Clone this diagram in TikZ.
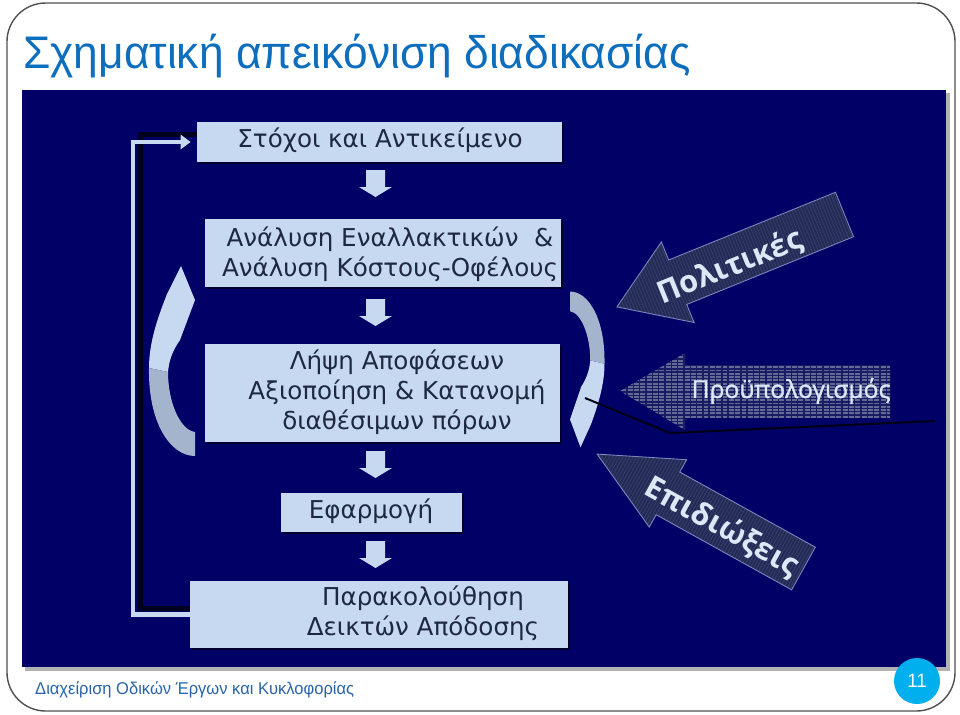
\documentclass[tikz,border=0pt]{standalone}
\usepackage{fontspec}
\setmainfont{DejaVu Sans}
\newfontfamily\titlefont{Liberation Sans}[FakeStretch=0.97]
\newfontfamily\arrowfont{Open Sans}
\newfontfamily\budfont{Open Sans}[FakeBold=1.3]
\usetikzlibrary{arrows.meta,shadows}

\definecolor{panelblue}{RGB}{0,0,102}
\definecolor{boxblue}{RGB}{198,217,240}
\definecolor{boxtext}{RGB}{30,40,65}
\definecolor{titleblue}{RGB}{14,110,190}
\definecolor{footblue}{RGB}{40,100,170}
\definecolor{pagecirc}{RGB}{0,175,238}
\definecolor{bandgray}{RGB}{165,180,205}
\definecolor{slate}{RGB}{36,42,86}
\definecolor{slateline}{RGB}{58,65,108}
\definecolor{slateedge}{RGB}{125,135,190}
\definecolor{budfill}{RGB}{25,28,100}
\definecolor{budline}{RGB}{100,106,148}
\definecolor{framegray}{RGB}{80,80,80}

\newdimen\unitpx \unitpx=0.02cm

\tikzset{
  curvarr/.pic={
    \fill[boxblue] (-46,-74) .. controls (-46,-100) and (-37,-125) .. (-28,-148)
      -- (-14,-176) -- (0,-142) -- (-15,-102)
      .. controls (-22,-92) and (-26,-82) .. (-27,-70) -- cycle;
    \fill[bandgray] (-46,-74) .. controls (-47,-20) and (-25,14) .. (0,14)
      -- (0,-10) .. controls (-15,-12) and (-27,-40) .. (-27,-70) -- cycle;
  }
}

\begin{document}
\begin{tikzpicture}[x=0.02cm,y=-0.02cm,
    box/.style={fill=boxblue,inner sep=0pt,
        drop shadow={shadow xshift=1.1pt,shadow yshift=-1.1pt,fill=black!55!panelblue,opacity=1}},
    boxlabel/.style={text=boxtext,align=center,font=\fontsize{14}{17}\selectfont},
    fbline/.style={draw=boxblue,line width=2.3pt,-{Triangle[length=5.7pt,width=8pt]}},
    fbshade/.style={draw=black!70!panelblue,line width=2.8pt},
    stripeline/.style={draw=slateline,line width=0.4pt},
    budstripe/.style={draw=budline,line width=1.1pt,dash pattern=on 2.8pt off 0.8pt},
    armtext/.style={text=boxblue!60!white,font=\arrowfont\bfseries\fontsize{17.5}{20}\selectfont},
    budtext/.style={text=boxblue!60!white,font=\budfont\fontsize{14}{16}\selectfont}]
\useasboundingbox (0,0) rectangle (960,714);

% slide frame and panel
\draw[framegray,fill=white,rounded corners=22pt,line width=0.8pt] (7,3) rectangle (955,711);
\fill[gray!60] (25,93) rectangle (950,671);
\fill[panelblue] (22,90) rectangle (946,667);
\node[anchor=base west,text=titleblue,font=\titlefont\fontsize{26}{30}\selectfont] (title) at (17,68) {Σχηματική απεικόνιση διαδικασίας};

% process boxes
\node[box,minimum width=365\unitpx,minimum height=40\unitpx] (b1) at (379.5,142) {};
\node[box,minimum width=356\unitpx,minimum height=68\unitpx] (b2) at (383,253) {};
\node[box,minimum width=355\unitpx,minimum height=98\unitpx] (b3) at (382.5,393) {};
\node[box,minimum width=181\unitpx,minimum height=39\unitpx] (b4) at (371.5,512.5) {};
\node[box,minimum width=378\unitpx,minimum height=67\unitpx] (b5) at (379,614.5) {};

% feedback loop
\draw[fbshade] ([yshift=3.4pt]b5.west) -- ++(-49,0) |- ([yshift=4.5pt]b1.west);
\draw[fbline] (b5.west) -- ++(-57,0) |- ([xshift=-3.4pt]b1.west);

% curved arrows
\pic at (195,442) {curvarr};
\pic[rotate=180,xscale=0.75,yscale=0.82] at (570,303) {curvarr};

% down arrows
\foreach \t in {170,299,451,541}
  \fill[boxblue] (366,\t) -- (385,\t) -- (385,\t+17) -- (392,\t+17) -- (375.5,\t+27)
    -- (359,\t+17) -- (366,\t+17) -- cycle;

% labels
\node[boxlabel] (l1) at (380,140) {Στόχοι και Αντικείμενο};
\node[boxlabel] (l2) at (390,254) {Ανάλυση Εναλλακτικών \ \&\\Ανάλυση Κόστους-Οφέλους};
\node[boxlabel] (l3) at (397,392) {Λήψη Αποφάσεων\\Αξιοποίηση \& Κατανομή\\διαθέσιμων πόρων};
\node[boxlabel] (l4) at (371,511) {Εφαρμογή};
\node[boxlabel] (l5) at (423,613) {Παρακολούθηση\\Δεικτών Απόδοσης};

% Politikes
\begin{scope}[shift={(844.5,214.5)},rotate=202.1]
  \begin{scope}
    \clip (0,-24) -- (180,-24) -- (180,-43.5) -- (245.6,0) -- (180,43.5) -- (180,24) -- (0,24) -- cycle;
    \fill[slate] (0,-45) rectangle (246,45);
    \foreach \s in {2,5,...,245} \draw[stripeline] (\s,-45) -- (\s,45);
  \end{scope}
  \draw[slateedge,line width=0.5pt] (0,-24) -- (180,-24) -- (180,-43.5) -- (245.6,0) -- (180,43.5) -- (180,24) -- (0,24) -- cycle;
\end{scope}
\node[armtext,rotate=22] (tpol) at (730,267) {Πολιτικές};

% Epidioxeis
\begin{scope}[shift={(803.5,568.5)},rotate=151]
  \begin{scope}
    \clip (0,-24.4) -- (155,-24.4) -- (155,-38.5) -- (236,0) -- (155,38.5) -- (155,24.4) -- (0,24.4) -- cycle;
    \fill[slate] (0,-45) rectangle (240,45);
    \foreach \s in {2,5,...,236} \draw[stripeline] (\s,-45) -- (\s,45);
  \end{scope}
  \draw[slateedge,line width=0.5pt] (0,-24.4) -- (155,-24.4) -- (155,-38.5) -- (236,0) -- (155,38.5) -- (155,24.4) -- (0,24.4) -- cycle;
\end{scope}
\node[armtext,rotate=-29] (tepi) at (722,527) {Επιδιώξεις};

% Budget
\draw[black!80!panelblue,line width=1.1pt] (585,398) -- (670,433) -- (935,421);
\begin{scope}
  \clip (890,365) -- (685,365) -- (685,353) -- (620,391) -- (685,430) -- (685,418) -- (890,418) -- cycle;
  \fill[budfill] (615,350) rectangle (895,435);
  \foreach \y in {354,357.3,...,431} \draw[budstripe] (615,\y) -- (895,\y);
\end{scope}
\node[budtext] (tbud) at (791,391) {Προϋπολογισμός};

% footer
\node[anchor=base west,text=footblue,font=\titlefont\fontsize{9.7}{12}\selectfont] (foot) at (29,694) {Διαχείριση Οδικών Έργων και Κυκλοφορίας};
\node[circle,fill=pagecirc,minimum size=46\unitpx,inner sep=0pt,text=white,font=\titlefont\fontsize{11}{12}\selectfont] (pg) at (917,681) {11};
\end{tikzpicture}
\end{document}
